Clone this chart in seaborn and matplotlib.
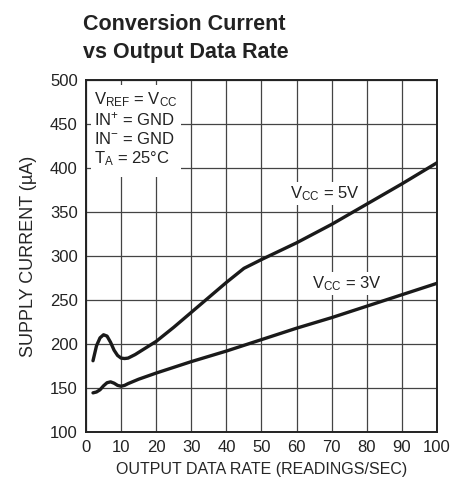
import numpy as np
import pandas as pd
import matplotlib
matplotlib.use("Agg")
import matplotlib.pyplot as plt
import seaborn as sns
from matplotlib.patches import Rectangle
from matplotlib import font_manager

# ==========================================
# Data
# ==========================================
rate_5v = [2, 3, 4, 5, 6, 7, 8, 9, 10, 11, 12, 14, 16, 20, 25, 30, 35, 40, 45, 50, 60, 70, 80, 90, 100]
curr_5v = [181, 198, 207, 210.5, 209, 202, 193, 187, 184, 183.5, 184, 188, 193, 203, 219, 236, 253, 270, 286, 296, 315, 336, 359, 382, 406]

rate_3v = [2, 3, 4, 5, 6, 7, 8, 9, 10, 11, 12, 15, 20, 30, 40, 50, 60, 70, 80, 90, 100]
curr_3v = [144.5, 145.5, 148, 152.5, 156, 157, 155.5, 153, 152, 153, 155, 160, 167, 180, 192, 205, 218, 230, 243, 256, 269]

x_ticks = list(range(0, 101, 10))
y_ticks = list(range(100, 501, 50))

# ==========================================
# Style
# ==========================================
sns.set_style("white")
names = {f.name for f in font_manager.fontManager.ttflist}
narrow = "Liberation Sans Narrow" if "Liberation Sans Narrow" in names else "Liberation Sans"
plt.rcParams['font.family'] = [narrow, 'DejaVu Sans']
plt.rcParams['mathtext.fontset'] = 'custom'
plt.rcParams['mathtext.rm'] = narrow
plt.rcParams['mathtext.it'] = narrow
plt.rcParams['text.color'] = '#222222'

fig = plt.figure(figsize=(4.66, 4.87), dpi=100)
ax = fig.add_axes([0.1845, 0.1129, 0.7533, 0.7228])

df5 = pd.DataFrame({"rate": rate_5v, "current": curr_5v})
df3 = pd.DataFrame({"rate": rate_3v, "current": curr_3v})
sns.lineplot(data=df5, x="rate", y="current", color="#1a1a1a", lw=2.4, ax=ax, zorder=3)
sns.lineplot(data=df3, x="rate", y="current", color="#1a1a1a", lw=2.4, ax=ax, zorder=3)

ax.set_xlim(0, 100)
ax.set_ylim(100, 500)
ax.set_xticks(x_ticks)
ax.set_yticks(y_ticks)
ax.grid(True, color="#444444", lw=0.9)
ax.set_axisbelow(True)
for s in ax.spines.values():
    s.set_color("#222222")
    s.set_linewidth(1.4)
ax.tick_params(axis='both', length=0, labelsize=12, pad=6, colors='#222222')

ax.set_xlabel("OUTPUT DATA RATE (READINGS/SEC)", fontsize=11.5, labelpad=5)
ax.set_ylabel("SUPPLY CURRENT (µA)", fontsize=13, labelpad=9)

# conditions box (covers the grid)
ax.add_patch(Rectangle((0.014, 0.725), 0.256, 0.261, transform=ax.transAxes,
                       facecolor='white', edgecolor='none', zorder=1.5))
cond = [r"V$_{\mathrm{REF}}$ = V$_{\mathrm{CC}}$",
        r"IN$^{+}$ = GND",
        r"IN$^{-}$ = GND",
        r"T$_{\mathrm{A}}$ = 25°C"]
for i, t in enumerate(cond):
    ax.text(0.022, 0.945 - i * 0.056, t, transform=ax.transAxes, fontsize=12,
            va='center', ha='left', zorder=4)

ax.text(68, 371, r"V$_{\mathrm{CC}}$ = 5V", fontsize=12, ha='center', va='center',
        zorder=4, bbox=dict(facecolor='white', edgecolor='none', pad=1.5))
ax.text(74.3, 268.5, r"V$_{\mathrm{CC}}$ = 3V", fontsize=12, ha='center', va='center',
        zorder=4, bbox=dict(facecolor='white', edgecolor='none', pad=1.5))

fig.text(0.178, 0.972, "Conversion Current\nvs Output Data Rate", fontsize=15.5,
         fontweight='bold', ha='left', va='top', linespacing=1.45, color='#222222')

fig.savefig("out.png", dpi=100)
plt.close(fig)
